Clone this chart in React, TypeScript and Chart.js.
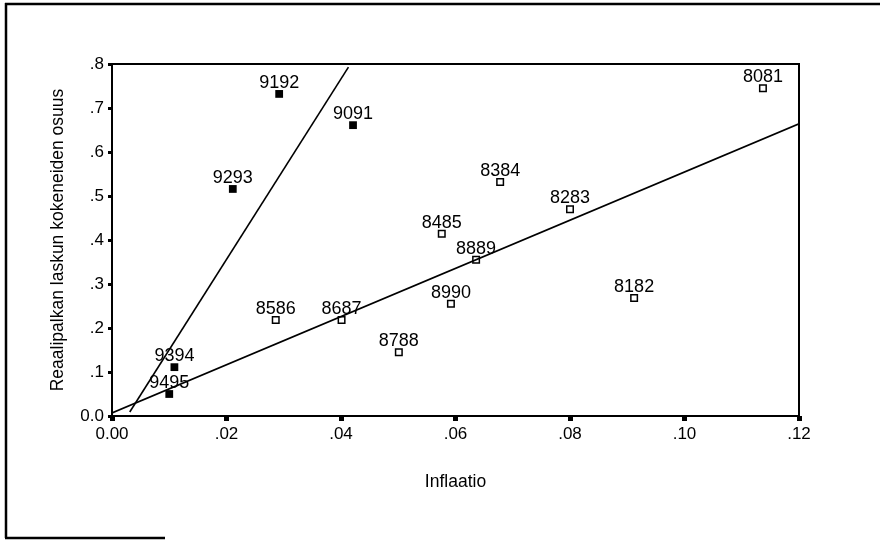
import React, { useEffect, useRef } from 'react';
import { Chart, registerables } from 'chart.js';

Chart.register(...registerables);

// Filled squares (1990s years)
const filledLabels = ['9192', '9091', '9293', '9394', '9495'];
const filledX = [0.0292, 0.0421, 0.0211, 0.0109, 0.01];
const filledY = [0.732, 0.661, 0.516, 0.111, 0.05];

// Hollow squares (1980s years)
const hollowLabels = ['8081', '8182', '8283', '8384', '8485', '8586', '8687', '8788', '8889', '8990'];
const hollowX = [0.1137, 0.0912, 0.08, 0.0678, 0.0576, 0.0286, 0.0401, 0.0501, 0.0636, 0.0592];
const hollowY = [0.745, 0.268, 0.47, 0.532, 0.414, 0.218, 0.218, 0.145, 0.355, 0.255];

// Fit lines
const fitLowX = [0, 0.12];
const fitLowY = [0.007, 0.664];
const fitHighX = [0.0031, 0.0413];
const fitHighY = [0.009, 0.793];

const xTitle = 'Inflaatio';
const yTitle = 'Reaalipalkan laskun kokeneiden osuus';

const FONT = '"Liberation Sans", Arial, Helvetica, sans-serif';

const toPts = (xs: number[], ys: number[]) => xs.map((x, i) => ({ x, y: ys[i] }));

export default function App() {
  const ref = useRef<HTMLCanvasElement | null>(null);

  useEffect(() => {
    document.body.style.margin = '0';
    const canvas = ref.current;
    if (!canvas) return;

    const framePlugin = {
      id: 'framePlugin',
      afterDraw(chart: any) {
        const { ctx, chartArea, scales } = chart;
        ctx.save();
        ctx.strokeStyle = '#000';
        ctx.lineWidth = 2;
        ctx.strokeRect(chartArea.left, chartArea.top, chartArea.right - chartArea.left, chartArea.bottom - chartArea.top);
        // outer page frame
        ctx.lineWidth = 2.5;
        ctx.beginPath();
        ctx.moveTo(5, 4);
        ctx.lineTo(880, 4);
        ctx.moveTo(6, 3);
        ctx.lineTo(6, 538);
        ctx.moveTo(5, 538);
        ctx.lineTo(165, 538);
        ctx.stroke();
        // point labels
        ctx.fillStyle = '#000';
        ctx.font = `18px ${FONT}`;
        ctx.textAlign = 'center';
        ctx.textBaseline = 'alphabetic';
        const draw = (labels: string[], xs: number[], ys: number[]) => {
          labels.forEach((lab, i) => {
            const px = scales.x.getPixelForValue(xs[i]);
            const py = scales.y.getPixelForValue(ys[i]);
            ctx.fillText(lab, px, py - 6);
          });
        };
        draw(filledLabels, filledX, filledY);
        draw(hollowLabels, hollowX, hollowY);
        ctx.restore();
      },
    };

    const chart = new Chart(canvas, {
      type: 'scatter',
      data: {
        datasets: [
          {
            label: 'fitLow',
            data: toPts(fitLowX, fitLowY),
            showLine: true,
            borderColor: '#000',
            borderWidth: 1.6,
            pointRadius: 0,
            fill: false,
          },
          {
            label: 'fitHigh',
            data: toPts(fitHighX, fitHighY),
            showLine: true,
            borderColor: '#000',
            borderWidth: 1.6,
            pointRadius: 0,
            fill: false,
          },
          {
            label: '90s',
            data: toPts(filledX, filledY),
            pointStyle: 'rect',
            pointRadius: 5.5,
            backgroundColor: '#000',
            borderColor: '#000',
            borderWidth: 0,
            showLine: false,
          },
          {
            label: '80s',
            data: toPts(hollowX, hollowY),
            pointStyle: 'rect',
            pointRadius: 4.6,
            backgroundColor: '#fff',
            borderColor: '#000',
            borderWidth: 1.5,
            showLine: false,
          },
        ],
      },
      options: {
        animation: false,
        responsive: false,
        maintainAspectRatio: false,
        layout: { padding: { left: 0, top: 64, right: 81, bottom: 0 } },
        plugins: {
          legend: { display: false },
          tooltip: { enabled: false },
        },
        scales: {
          x: {
            type: 'linear',
            min: 0,
            max: 0.12,
            afterFit: (s: any) => {
              s.height = 124;
            },
            ticks: {
              stepSize: 0.02,
              color: '#000',
              padding: 3,
              font: { family: FONT, size: 17 },
              callback: (v: any) => {
                const n = Number(v);
                if (Math.abs(n) < 1e-9) return '0.00';
                return n.toFixed(2).replace(/^0/, '');
              },
            },
            grid: {
              display: true,
              drawOnChartArea: false,
              drawTicks: true,
              tickLength: 5,
              tickWidth: 5,
              tickColor: '#000',
            },
            border: { display: false },
            title: {
              display: true,
              text: xTitle,
              color: '#000',
              font: { family: FONT, size: 17.5 },
              padding: { top: 0, bottom: 47 },
            },
          },
          y: {
            type: 'linear',
            min: 0,
            max: 0.8,
            afterFit: (s: any) => {
              s.width = 112;
            },
            ticks: {
              stepSize: 0.1,
              color: '#000',
              padding: 4,
              font: { family: FONT, size: 17 },
              callback: (v: any) => {
                const n = Number(v);
                if (Math.abs(n) < 1e-9) return '0.0';
                return n.toFixed(1).replace(/^0/, '');
              },
            },
            grid: {
              display: true,
              drawOnChartArea: false,
              drawTicks: true,
              tickLength: 4,
              tickWidth: 3,
              tickColor: '#000',
            },
            border: { display: false },
            title: {
              display: true,
              text: yTitle,
              color: '#000',
              font: { family: FONT, size: 17.5 },
              padding: { top: 48, bottom: 0 },
            },
          },
        },
      },
      plugins: [framePlugin],
    });

    return () => {
      chart.destroy();
    };
  }, []);

  return (
    <div style={{ position: 'fixed', left: 0, top: 0, width: 880, height: 540, background: '#fff' }}>
      <canvas ref={ref} width={880} height={540} style={{ display: 'block', width: 880, height: 540 }} />
    </div>
  );
}
